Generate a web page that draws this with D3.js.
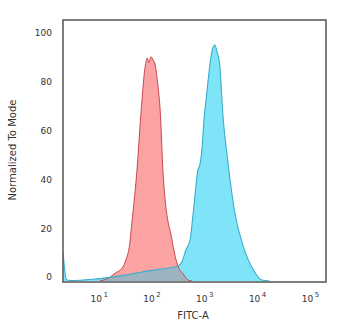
<!DOCTYPE html>
<html>
<head>
<meta charset="utf-8">
<script src="https://cdn.jsdelivr.net/npm/d3@7"></script>
<style>
  body { margin: 0; background: #fff; }
  text { font-family: "DejaVu Sans", Verdana, sans-serif; fill: #333; }
</style>
</head>
<body>
<svg id="chart" width="350" height="333"></svg>
<script>
// Isotype control histogram (log10 of FITC-A intensity vs % of mode)
const controlExp = [1.02, 1.21, 1.31, 1.44, 1.52, 1.59, 1.62, 1.72, 1.81, 1.88, 1.92, 1.95, 1.99,
                    2.03, 2.07, 2.13, 2.16, 2.22, 2.32, 2.35, 2.45, 2.50, 2.60, 2.69, 2.77];
const controlPct = [0, 1.5, 3.2, 5.2, 9, 15.6, 22, 44.1, 71.4, 87.8, 91.3, 89.5, 91.9,
                    90.6, 88.5, 78.3, 71.4, 44.1, 23.6, 20.9, 10, 6.1, 2.9, 0.4, 0];

// Stained sample histogram
const stainedExp = [0.324, 0.35, 0.39, 0.46, 0.65, 0.89, 1.21, 1.53, 1.84, 2.16, 2.41, 2.50, 2.58,
                    2.65, 2.73, 2.79, 2.88, 2.92, 2.96, 2.99, 3.04, 3.11, 3.16, 3.20, 3.24, 3.29,
                    3.35, 3.45, 3.58, 3.74, 3.93, 4.09, 4.24];
const stainedPct = [12, 6, 0.5, 0.2, 0.3, 0.7, 1.5, 2.5, 3.8, 4.8, 5.6, 6.1, 8,
                    12.7, 16.8, 27.9, 45.5, 48, 55, 65, 75.5, 89.2, 95.5, 96.7, 94, 89.2,
                    68.7, 48.2, 27.7, 14.1, 4.5, 0.4, 0];

const yTicks = [0, 20, 40, 60, 80, 100];
const xTicks = [1e1, 1e2, 1e3, 1e4, 1e5];
const xTitle = "FITC-A";
const yTitle = "Normalized To Mode";

const svg = d3.select("#chart");
const frame = { left: 63, top: 20, right: 326, bottom: 282 };

const x = d3.scaleLog()
  .domain([Math.pow(10, 0.324), Math.pow(10, 5.305)])
  .range([frame.left, frame.right]);
const y = d3.scaleLinear().domain([0, 100]).range([281, 37]);

const toPoints = (exps, pcts) => exps.map((e, i) => ({ v: Math.pow(10, e), p: pcts[i] }));
const control = toPoints(controlExp, controlPct);
const stained = toPoints(stainedExp, stainedPct);

const area = d3.area().x(d => x(d.v)).y0(y(0)).y1(d => y(d.p)).curve(d3.curveMonotoneX);
const line = d3.line().x(d => x(d.v)).y(d => y(d.p)).curve(d3.curveMonotoneX);

const defs = svg.append("defs");
defs.append("clipPath").attr("id", "plotClip")
  .append("rect")
  .attr("x", frame.left).attr("y", frame.top)
  .attr("width", frame.right - frame.left).attr("height", frame.bottom - frame.top);
defs.append("clipPath").attr("id", "controlClip")
  .append("path").attr("d", area(control));

const plot = svg.append("g").attr("clip-path", "url(#plotClip)");

plot.append("path").attr("d", area(control)).attr("fill", "#fba3a3");
plot.append("path").attr("d", area(stained)).attr("fill", "#80e4f8");
// overlap of the two populations
plot.append("path").attr("d", area(stained)).attr("fill", "#9db3c2")
  .attr("clip-path", "url(#controlClip)");
plot.append("path").attr("d", line(control)).attr("fill", "none")
  .attr("stroke", "#c8474a").attr("stroke-width", 1);
plot.append("path").attr("d", line(stained)).attr("fill", "none")
  .attr("stroke", "#38aecb").attr("stroke-width", 1.1);

// frame
svg.append("rect")
  .attr("x", frame.left).attr("y", frame.top)
  .attr("width", frame.right - frame.left).attr("height", frame.bottom - frame.top)
  .attr("fill", "none").attr("stroke", "#5e5e5e").attr("stroke-width", 1.6);

// y axis labels
const yAxis = svg.append("g")
  .attr("transform", `translate(${frame.left},0)`)
  .call(d3.axisLeft(y).tickValues(yTicks).tickSize(0).tickPadding(11));
yAxis.select(".domain").remove();
yAxis.selectAll("text")
  .attr("y", -4)
  .style("font-size", "9px")
  .style("font-family", "'DejaVu Sans', sans-serif")
  .attr("fill", "#333");

// x axis labels with superscript exponents
const xAxis = svg.append("g")
  .attr("transform", `translate(0,${frame.bottom})`)
  .call(d3.axisBottom(x).tickValues(xTicks).tickSize(0).tickFormat(() => ""));
xAxis.select(".domain").remove();
xAxis.selectAll(".tick text").each(function (d) {
  const t = d3.select(this)
    .attr("y", 20).attr("dy", 0)
    .style("font-size", "9px")
    .style("font-family", "'DejaVu Sans', sans-serif")
    .attr("fill", "#333");
  t.append("tspan").text("10");
  t.append("tspan").attr("dy", -5).attr("dx", 1.5).style("font-size", "7px")
    .text(Math.round(Math.log10(d)));
});

svg.append("text")
  .attr("x", 193).attr("y", 319)
  .attr("text-anchor", "middle")
  .style("font-size", "10px")
  .text(xTitle);

svg.append("text")
  .attr("transform", "translate(16,150) rotate(-90)")
  .attr("text-anchor", "middle")
  .style("font-size", "10px")
  .text(yTitle);
</script>
</body>
</html>
